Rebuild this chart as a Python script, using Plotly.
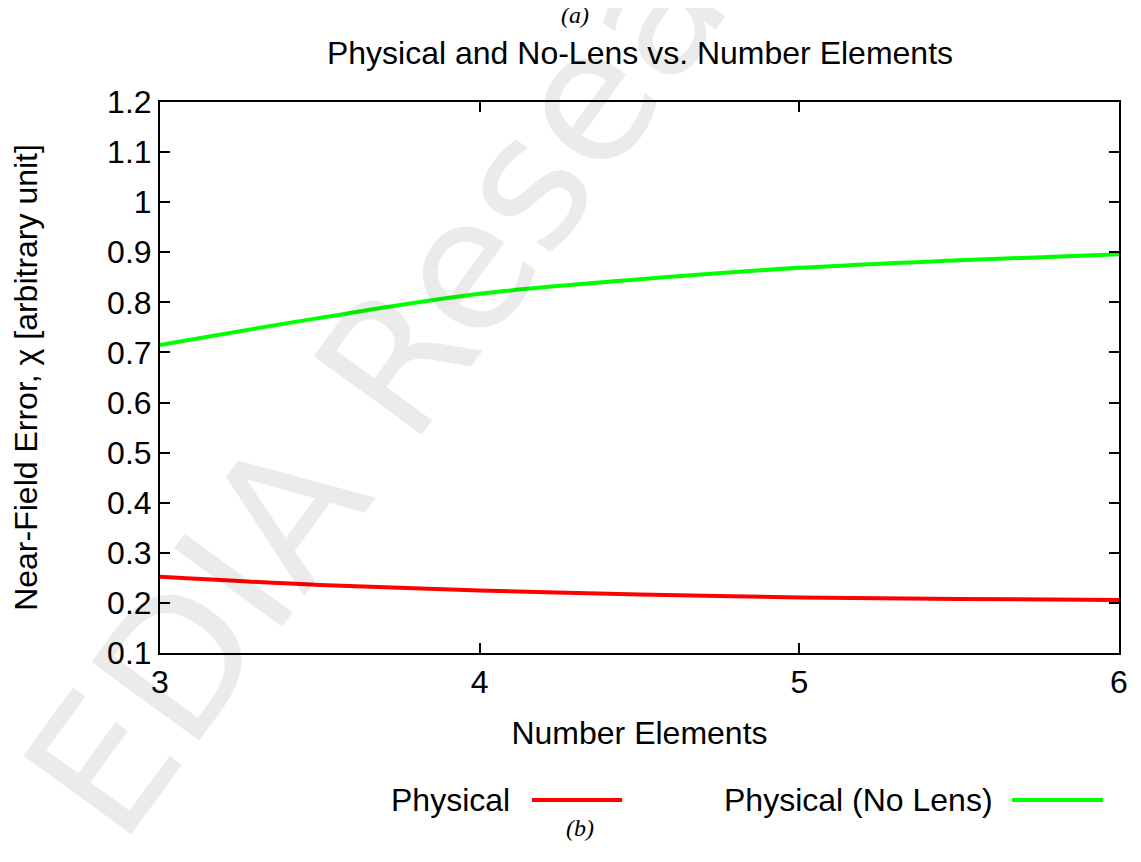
import plotly.graph_objects as go

# Data
num_elements = [3.0, 3.5, 4.0, 4.5, 5.0, 5.5, 6.0]
physical = [0.252, 0.236, 0.225, 0.217, 0.211, 0.208, 0.206]
physical_no_lens = [0.715, 0.769, 0.817, 0.846, 0.869, 0.884, 0.896]

x_ticks = [3, 4, 5, 6]
y_ticks = [0.1, 0.2, 0.3, 0.4, 0.5, 0.6, 0.7, 0.8, 0.9, 1.0, 1.1, 1.2]
y_tick_text = ["0.1", "0.2", "0.3", "0.4", "0.5", "0.6", "0.7", "0.8", "0.9", "1", "1.1", "1.2"]

RED = "#ff0000"
GREEN = "#00ff00"
FONT = "Liberation Sans, Arial, sans-serif"
SERIF = "Liberation Serif, Times New Roman, serif"
FS = 32

fig = go.Figure()
fig.add_trace(go.Scatter(x=num_elements, y=physical, mode="lines", name="Physical",
                         line=dict(color=RED, width=4, shape="spline"), showlegend=False))
fig.add_trace(go.Scatter(x=num_elements, y=physical_no_lens, mode="lines", name="Physical (No Lens)",
                         line=dict(color=GREEN, width=4, shape="spline"), showlegend=False))

axis_common = dict(showline=True, linecolor="black", linewidth=2, mirror="ticks",
                   ticks="inside", ticklen=10, tickwidth=1.5, tickcolor="black",
                   showgrid=False, zeroline=False, automargin=False,
                   tickfont=dict(family=FONT, size=FS, color="black"))

fig.update_xaxes(range=[3, 6], tickvals=x_ticks, ticktext=[str(v) for v in x_ticks],
                 title=dict(text="Number Elements", font=dict(family=FONT, size=FS, color="black"), standoff=22),
                 **axis_common)
fig.update_yaxes(range=[0.1, 1.2], tickvals=y_ticks, ticktext=y_tick_text,
                 title=dict(text="Near-Field Error, χ [arbitrary unit]",
                            font=dict(family=FONT, size=FS, color="black"), standoff=62),
                 **axis_common)

annotations = [
    # watermark
    dict(text="EDIA Research", x=0.314, y=0.69, xref="paper", yref="paper",
         showarrow=False, textangle=-54, xanchor="center", yanchor="middle",
         font=dict(family="DejaVu Sans, sans-serif", size=183, color="rgba(0,0,0,0.08)")),
    dict(text="<i>(a)</i>", x=0.4327, y=1.158, xref="paper", yref="paper", showarrow=False,
         xanchor="center", yanchor="middle", font=dict(family=SERIF, size=24, color="black")),
    dict(text="<i>(b)</i>", x=0.438, y=-0.3176, xref="paper", yref="paper", showarrow=False,
         xanchor="center", yanchor="middle", font=dict(family=SERIF, size=24, color="black")),
    dict(text="Physical", x=0.367, y=-0.2668, xref="paper", yref="paper", showarrow=False,
         xanchor="right", yanchor="middle", font=dict(family=FONT, size=FS, color="black")),
    dict(text="Physical (No Lens)", x=0.8707, y=-0.2668, xref="paper", yref="paper", showarrow=False,
         xanchor="right", yanchor="middle", font=dict(family=FONT, size=FS, color="black")),
]

shapes = [
    dict(type="line", xref="paper", yref="paper", x0=0.388, x1=0.4818, y0=-0.2668, y1=-0.2668,
         line=dict(color=RED, width=4)),
    dict(type="line", xref="paper", yref="paper", x0=0.8884, x1=0.9833, y0=-0.2668, y1=-0.2668,
         line=dict(color=GREEN, width=4)),
]

# page has an 8px body margin; figure is sized/offset so the plot area lands at
# x 160..1119, y 102..653 in the 1141x862 window
W, H = 1125, 846
fig.update_layout(
    width=W, height=H,
    margin=dict(l=152, r=14, t=94, b=201),
    paper_bgcolor="white", plot_bgcolor="white",
    title=dict(text="Physical and No-Lens vs. Number Elements", x=(640 - 8) / W, xanchor="center",
               y=1 - (53 - 8) / H, yanchor="middle", font=dict(family=FONT, size=FS, color="black")),
    annotations=annotations, shapes=shapes,
    showlegend=False,
)

fig.write_html("out.html")
